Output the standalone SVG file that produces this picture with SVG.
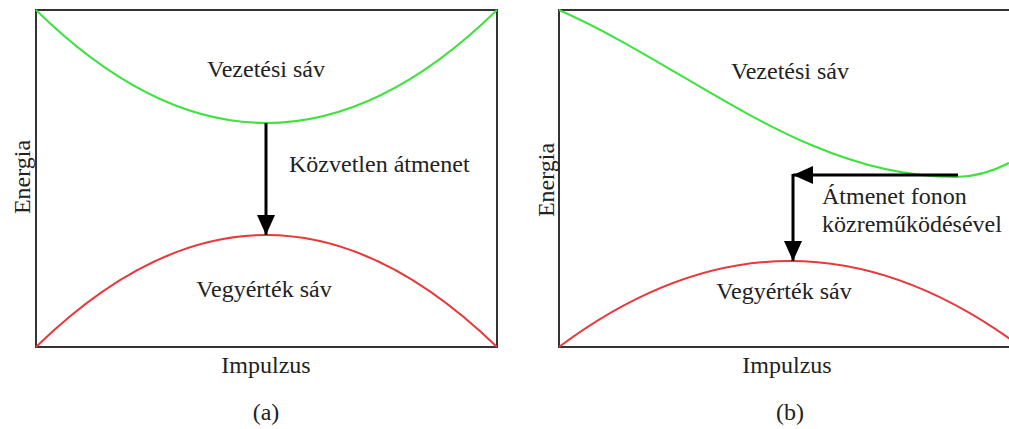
<svg xmlns="http://www.w3.org/2000/svg" width="1009" height="429" viewBox="0 0 1009 429">
<style>
text{font-family:"Liberation Serif","Times New Roman",serif;font-size:24px;fill:#222}
.frame{fill:none;stroke:#333;stroke-width:2}
.cb{fill:none;stroke:#3ee23e;stroke-width:2}
.vb{fill:none;stroke:#e8383a;stroke-width:2}
.arr{fill:none;stroke:#000;stroke-width:3}
</style>
<defs>
<marker id="ah" markerUnits="userSpaceOnUse" markerWidth="22" markerHeight="20" refX="20" refY="9" orient="auto">
<path d="M0,0 L20,9 L0,18 Z" fill="#000"/>
</marker>
</defs>
<rect width="1009" height="429" fill="#fff"/>

<g id="panel-a">
<rect class="frame" x="36" y="10" width="461" height="337"/>
<path id="a-conduction" class="cb" d="M36,10 Q266,236 497,10"/>
<path id="a-valence" class="vb" d="M36,347 Q266,123 497,347"/>
<text x="266" y="77" text-anchor="middle">Vezetési sáv</text>
<text x="264" y="297" text-anchor="middle">Vegyérték sáv</text>
<text transform="translate(30,177) rotate(-90)" text-anchor="middle">Energia</text>
<text x="266" y="373" text-anchor="middle">Impulzus</text>
<text x="266" y="420" text-anchor="middle">(a)</text>
<text x="289" y="172">Közvetlen átmenet</text>
</g>

<g id="panel-b">
<path class="frame" d="M1010,10 L559,10 L559,347 L1010,347"/>
<path id="b-conduction" class="cb" d="M559,10 C689,67 805,177 955,177 Q982,177 1009,163"/>
<path id="b-valence" class="vb" d="M559,347 Q790,175 1021,347"/>
<text x="790" y="79" text-anchor="middle">Vezetési sáv</text>
<text x="784" y="299" text-anchor="middle">Vegyérték sáv</text>
<text transform="translate(554,180) rotate(-90)" text-anchor="middle">Energia</text>
<text x="787" y="373" text-anchor="middle">Impulzus</text>
<text x="790" y="420" text-anchor="middle">(b)</text>
<text x="822" y="204">Átmenet fonon</text>
<text x="822" y="232">közreműködésével</text>
</g>

<g id="connectors">
<line class="arr" x1="266" y1="123" x2="266" y2="235" marker-end="url(#ah)"/>
<polyline class="arr" points="958,175 793,175" marker-end="url(#ah)"/>
<line class="arr" x1="793" y1="174" x2="793" y2="261" marker-end="url(#ah)"/>
</g>
</svg>
